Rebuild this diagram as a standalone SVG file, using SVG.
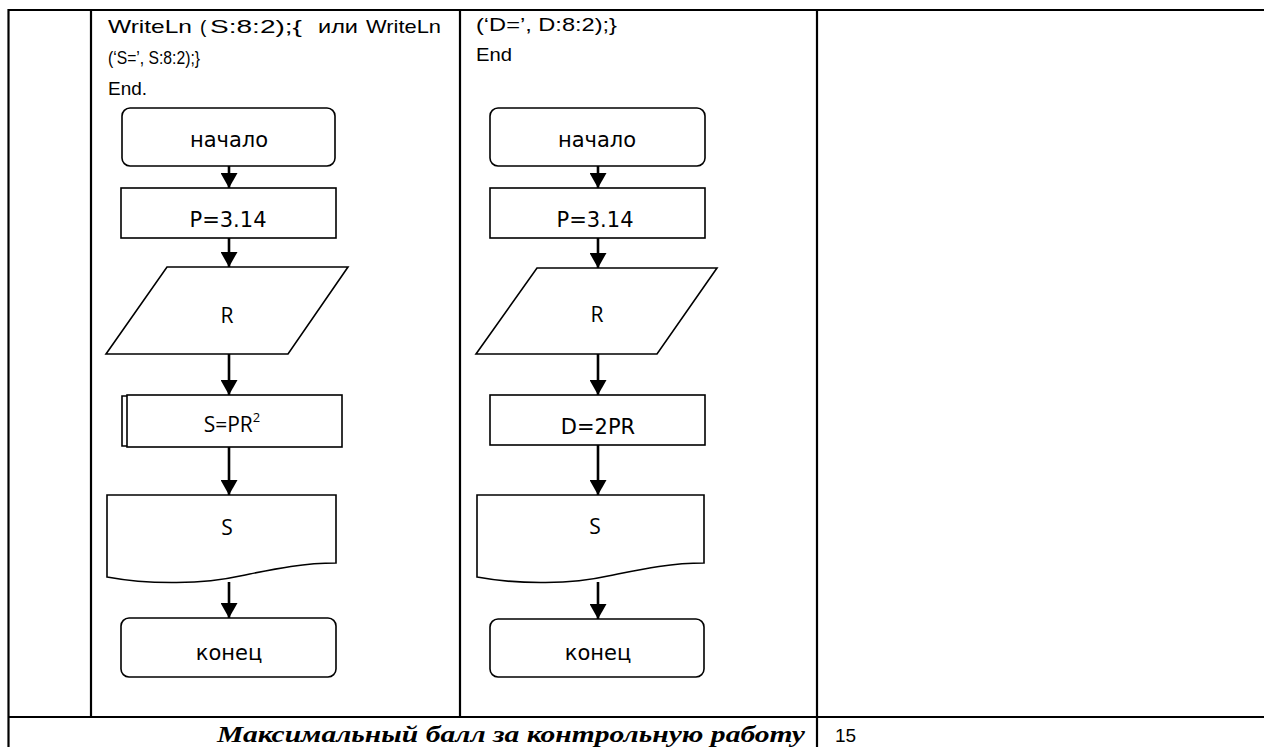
<svg xmlns="http://www.w3.org/2000/svg" width="1264" height="747" viewBox="0 0 1264 747">
<style>
.tbl{stroke:#000;stroke-width:2.2;fill:none}
.shape{fill:#fff;stroke:#000;stroke-width:1.6}
.code{font-family:"Liberation Sans",Arial,sans-serif;font-size:19px;fill:#000}
.lbl{font-family:"DejaVu Sans",Verdana,sans-serif;font-size:21px;fill:#000;text-anchor:middle}
.lbl2{font-family:"Open Sans","Liberation Sans",sans-serif;font-size:21px;fill:#000;text-anchor:middle}
.conn{stroke:#000;stroke-width:2.6;fill:none;marker-end:url(#ah)}
.foot{font-family:"Liberation Serif","Times New Roman",serif;font-size:24px;font-weight:bold;font-style:italic;fill:#000}
</style>
<defs>
<marker id="ah" markerUnits="userSpaceOnUse" markerWidth="18" markerHeight="17" refX="16" refY="9" orient="auto" viewBox="0 0 18 18">
<path d="M0,0 L16,9 L0,18 Z" fill="#000"/>
</marker>
</defs>
<rect width="1264" height="747" fill="#fff"/>
<g id="table">
<line class="tbl" x1="8" y1="10" x2="1264" y2="10"/>
<line class="tbl" x1="8.5" y1="9" x2="8.5" y2="747"/>
<line class="tbl" x1="91" y1="10" x2="91" y2="717"/>
<line class="tbl" x1="460" y1="10" x2="460" y2="717"/>
<line class="tbl" x1="817" y1="10" x2="817" y2="747"/>
<line class="tbl" x1="8" y1="717" x2="1264" y2="717"/>
</g>
<g id="code-left">
<text class="code" y="33"><tspan x="108" textLength="84" lengthAdjust="spacingAndGlyphs">WriteLn</tspan><tspan x="200">(</tspan><tspan x="210" textLength="92" lengthAdjust="spacingAndGlyphs">S:8:2);{</tspan><tspan x="318" textLength="40" lengthAdjust="spacingAndGlyphs">или</tspan><tspan x="366" textLength="75" lengthAdjust="spacingAndGlyphs">WriteLn</tspan></text>
<text class="code" x="108" y="64" textLength="92" lengthAdjust="spacingAndGlyphs">(‘S=’, S:8:2);}</text>
<text class="code" x="108" y="95" textLength="39" lengthAdjust="spacingAndGlyphs">End.</text>
</g>
<g id="code-right">
<text class="code" x="476" y="31" textLength="141" lengthAdjust="spacingAndGlyphs">(‘D=’,  D:8:2);}</text>
<text class="code" x="476" y="61" textLength="36" lengthAdjust="spacingAndGlyphs">End</text>
</g>
<g id="connectors">
<line class="conn" x1="229" y1="166" x2="229" y2="188"/>
<line class="conn" x1="229" y1="238" x2="229" y2="267"/>
<line class="conn" x1="229" y1="354" x2="229" y2="395"/>
<line class="conn" x1="229" y1="447" x2="229" y2="495"/>
<line class="conn" x1="229" y1="582" x2="229" y2="618"/>
<line class="conn" x1="598" y1="166" x2="598" y2="188"/>
<line class="conn" x1="598" y1="238" x2="598" y2="268"/>
<line class="conn" x1="598" y1="354" x2="598" y2="395"/>
<line class="conn" x1="598" y1="445" x2="598" y2="495"/>
<line class="conn" x1="598" y1="582" x2="598" y2="619"/>
</g>
<g id="L-start"><rect class="shape" x="122" y="108" width="213" height="58" rx="8"/><text class="lbl" x="229" y="147">начало</text></g>
<g id="L-p"><rect class="shape" x="121" y="188" width="215" height="50"/><text class="lbl" x="228" y="227">P=3.14</text></g>
<g id="L-in"><polygon class="shape" points="167,267 348,267 288,354 106,354"/><text class="lbl2" x="227" y="323">R</text></g>
<g id="L-calc"><path class="shape" d="M127,396 H122 V446 H127"/><rect class="shape" x="127" y="395" width="215" height="52"/><text class="lbl2" x="232" y="432">S=PR<tspan font-size="13" dy="-10">2</tspan></text></g>
<g id="L-out"><path class="shape" d="M107,495 H336 V563 C300,563 270,570 240,576 C205,584 150,585 107,577 Z"/><text class="lbl2" x="227" y="535">S</text></g>
<g id="L-end"><rect class="shape" x="121" y="618" width="215" height="59" rx="8"/><text class="lbl" x="229" y="660">конец</text></g>
<g id="R-start"><rect class="shape" x="490" y="108" width="215" height="58" rx="8"/><text class="lbl" x="597" y="147">начало</text></g>
<g id="R-p"><rect class="shape" x="490" y="188" width="215" height="50"/><text class="lbl" x="595" y="227">P=3.14</text></g>
<g id="R-in"><polygon class="shape" points="537,268 717,268 657,354 476,354"/><text class="lbl2" x="597" y="322">R</text></g>
<g id="R-calc"><rect class="shape" x="490" y="395" width="215" height="50"/><text class="lbl" x="598" y="434">D=2PR</text></g>
<g id="R-out"><path class="shape" d="M477,495 H704 V563 C668,563 638,570 608,576 C573,584 520,585 477,577 Z"/><text class="lbl2" x="595" y="534">S</text></g>
<g id="R-end"><rect class="shape" x="490" y="619" width="214" height="58" rx="8"/><text class="lbl" x="598" y="660">конец</text></g>
<g id="footer">
<text class="foot" x="217" y="742" textLength="588" lengthAdjust="spacingAndGlyphs">Максимальный балл за контрольную работу</text>
<text class="code" x="835" y="742">15</text>
</g>
</svg>
